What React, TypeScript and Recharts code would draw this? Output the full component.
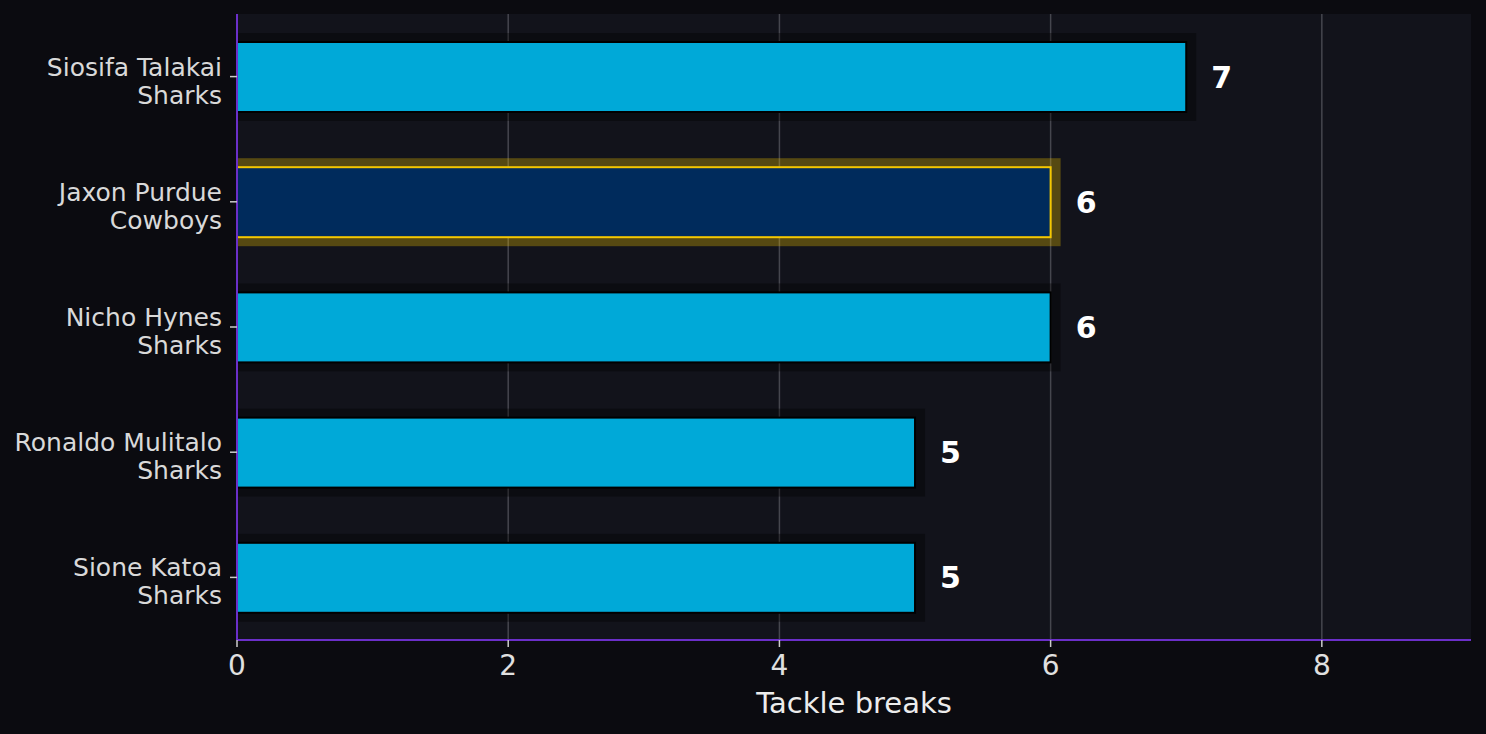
import React from "react";
import { BarChart, Bar, XAxis, YAxis, CartesianGrid, LabelList } from "recharts";

const players = ["Siosifa Talakai", "Jaxon Purdue", "Nicho Hynes", "Ronaldo Mulitalo", "Sione Katoa"];
const teams = ["Sharks", "Cowboys", "Sharks", "Sharks", "Sharks"];
const tackleBreaks = [7, 6, 6, 5, 5];
const xTicks = [0, 2, 4, 6, 8];
const highlightTeam = "Cowboys";

const data = players.map((p, i) => ({ player: p, team: teams[i], value: tackleBreaks[i] }));

const PAGE_BG = "#0b0b10";
const PLOT_BG = "#12131b";
const PURPLE = "#6b2fc9";
const CYAN = "#00a9d8";
const NAVY = "#002b5c";
const GOLD = "#f5c800";

// recharts 3 may hand the scale over as a function or as a wrapper with .map
const applyScale = (s: any, v: number) => {
  if (typeof s === "function") return s(v);
  if (s && typeof s.map === "function") return s.map(v);
  if (s && typeof s.apply === "function") return s.apply(v);
  return undefined;
};

const BarShape = (props: any) => {
  const { x, y, width, height, payload } = props;
  const hi = payload.team === highlightTeam;
  return (
    <g>
      <rect
        x={x}
        y={y - 9}
        width={width + 10}
        height={height + 18}
        fill={hi ? GOLD : "#000"}
        fillOpacity={hi ? 0.3 : 0.35}
      />
      <rect
        x={x}
        y={y}
        width={width}
        height={height}
        fill={hi ? NAVY : CYAN}
        stroke={hi ? GOLD : "#000"}
        strokeWidth={2}
      />
    </g>
  );
};

const PlayerTick = (props: any) => {
  const { x, y, payload } = props;
  const i = players.indexOf(payload.value);
  return (
    <text x={x} y={y} textAnchor="end" fill="#d9d9d9" fontSize={25} fontFamily="DejaVu Sans">
      <tspan x={x} y={y - 1}>{payload.value}</tspan>
      <tspan x={x} y={y + 27}>{teams[i]}</tspan>
    </text>
  );
};

export default function App() {
  return (
    <div style={{ position: "absolute", left: 0, top: 0, width: 1486, height: 734, background: PAGE_BG }}>
      <BarChart
        width={1486}
        height={734}
        data={data}
        layout="vertical"
        margin={{ top: 14, right: 15, bottom: 0, left: 0 }}
        barSize={70}
      >
        <CartesianGrid
          horizontal={false}
          stroke="#45464e"
          strokeWidth={1.5}
          fill={PLOT_BG}
          verticalCoordinatesGenerator={({ xAxis }: any) =>
            xTicks
              .map((t) => applyScale(xAxis?.scale, t))
              .filter((v) => typeof v === "number" && !Number.isNaN(v))
          }
        />
        <XAxis
          type="number"
          domain={[0, 9.1]}
          ticks={xTicks}
          height={94}
          stroke={PURPLE}
          strokeWidth={2}
          tickSize={7}
          tickMargin={8}
          tickLine={{ stroke: "#cccccc", strokeWidth: 1.5 }}
          tick={{ fill: "#e0e0e0", fontSize: 28, fontFamily: "DejaVu Sans" }}
          label={{
            value: "Tackle breaks",
            position: "insideBottom",
            offset: 21,
            fill: "#ececec",
            fontSize: 29,
            fontFamily: "DejaVu Sans",
          }}
        />
        <YAxis
          type="category"
          dataKey="player"
          width={237}
          stroke={PURPLE}
          strokeWidth={2}
          tickSize={7}
          tickMargin={8}
          tickLine={{ stroke: "#cccccc", strokeWidth: 1.5 }}
          tick={<PlayerTick />}
        />
        <Bar dataKey="value" shape={<BarShape />} isAnimationActive={false}>
          <LabelList
            dataKey="value"
            position="right"
            offset={25}
            fill="#ffffff"
            fontSize={30}
            fontWeight="bold"
            fontFamily="DejaVu Sans"
          />
        </Bar>
      </BarChart>
    </div>
  );
}
